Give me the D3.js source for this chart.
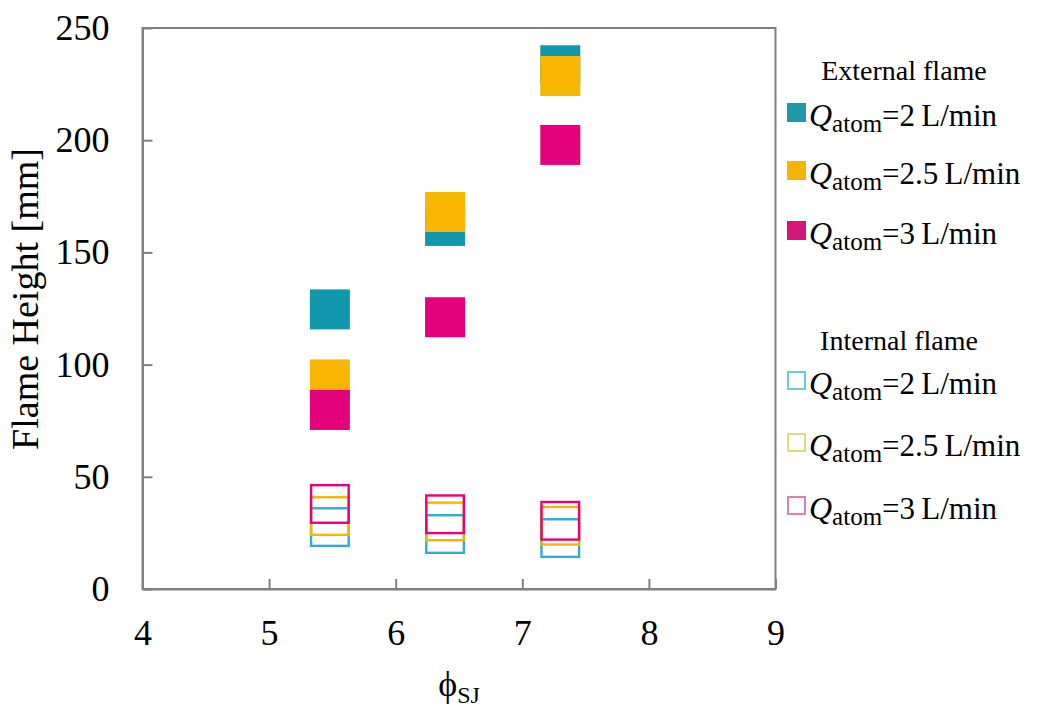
<!DOCTYPE html>
<html><head><meta charset="utf-8">
<script src="https://cdn.jsdelivr.net/npm/d3@7"></script>
<style>
html,body{margin:0;padding:0;background:#fff;}
text{font-family:"Liberation Serif","Times New Roman",serif;fill:#000;}
</style></head>
<body><svg id="chart" width="1038" height="711"></svg>
<script>
// ---- data ----
const phiSJ = [5.48, 6.39, 7.30];
const externalQ2  = [124.6, 161.8, 233.4];
const externalQ25 = [93.4, 168.0, 228.6];
const externalQ3  = [79.8, 121.1, 197.9];
const internalQ2  = [27.6, 24.5, 22.7];
const internalQ25 = [32.5, 30.1, 28.2];
const internalQ3  = [37.9, 33.3, 30.4];
const xTicks = [4, 5, 6, 7, 8, 9];
const yTicks = [0, 50, 100, 150, 200, 250];
const flowLabels = ["2", "2.5", "3"];

const svg = d3.select("#chart");
const x = d3.scaleLinear().domain([4, 9]).range([142.5, 775.5]);
const y = d3.scaleLinear().domain([0, 250]).range([589, 28]);
const axisColor = "#808080";

// frame
svg.append("rect").attr("x", x(4)).attr("y", y(250))
  .attr("width", x(9) - x(4)).attr("height", y(0) - y(250))
  .attr("fill", "none").attr("stroke", axisColor).attr("stroke-width", 2);

const gx = svg.append("g").attr("transform", `translate(0,${y(0)})`)
  .call(d3.axisBottom(x).tickValues(xTicks).tickSizeInner(-10).tickSizeOuter(0).tickPadding(30).tickFormat(d3.format("d")));
const gy = svg.append("g").attr("transform", `translate(${x(4)},0)`)
  .call(d3.axisLeft(y).tickValues(yTicks).tickSizeInner(-10).tickSizeOuter(0).tickPadding(33).tickFormat(d3.format("d")));
[gx, gy].forEach(g => {
  g.select(".domain").attr("stroke", axisColor).attr("stroke-width", 2);
  g.selectAll(".tick line").attr("stroke", axisColor).attr("stroke-width", 2);
  g.selectAll(".tick text").style("font-family", '"Liberation Serif", serif').style("font-size", "36px").attr("fill", "#000");
});

// axis titles
svg.append("text").attr("transform", "translate(38,299) rotate(-90)")
  .attr("text-anchor", "middle").style("font-size", "38px").text("Flame Height [mm]");
const xt = svg.append("text").attr("x", (x(4) + x(9)) / 2).attr("y", 696)
  .attr("text-anchor", "middle").style("font-size", "36px");
xt.append("tspan").text("\u03D5");
xt.append("tspan").attr("dy", 7).style("font-size", "24px").text("SJ");

// markers
const size = 40;
const extSeries = [
  {vals: externalQ2, color: "#1197ae"},
  {vals: externalQ25, color: "#f9b600"},
  {vals: externalQ3, color: "#e4007b"}
];
const intSeries = [
  {vals: internalQ2, color: "#35a9d6"},
  {vals: internalQ25, color: "#f8b500"},
  {vals: internalQ3, color: "#e5007d"}
];
extSeries.forEach(s => {
  svg.append("g").selectAll("rect").data(s.vals).join("rect")
    .attr("x", (d, i) => x(phiSJ[i]) - size / 2)
    .attr("y", d => y(d) - size / 2)
    .attr("width", size).attr("height", size)
    .attr("fill", s.color);
});
intSeries.forEach(s => {
  const sw = 2.4;
  svg.append("g").selectAll("rect").data(s.vals).join("rect")
    .attr("x", (d, i) => x(phiSJ[i]) - size / 2 + sw / 2)
    .attr("y", d => y(d) - size / 2 + sw / 2)
    .attr("width", size - sw).attr("height", size - sw)
    .attr("fill", "none").attr("stroke", s.color).attr("stroke-width", sw);
});

// legend
function legendBlock(title, titleX, titleY, baselines, markerColors, filled) {
  svg.append("text").attr("x", titleX).attr("y", titleY).attr("text-anchor", "middle")
    .style("font-size", "28px").text(title);
  baselines.forEach((b, i) => {
    if (filled) {
      svg.append("rect").attr("x", 787).attr("y", b - 23).attr("width", 19).attr("height", 19)
        .attr("fill", markerColors[i]);
    } else {
      svg.append("rect").attr("x", 788).attr("y", b - 22).attr("width", 17).attr("height", 17)
        .attr("fill", "none").attr("stroke", markerColors[i]).attr("stroke-width", 2);
    }
    const t = svg.append("text").attr("x", 809).attr("y", b);
    t.append("tspan").style("font-style", "italic").style("font-size", "32px").text("Q");
    t.append("tspan").attr("dy", 6).style("font-size", "25px").text("atom");
    t.append("tspan").attr("dy", -6).style("font-size", "31px").text("=" + flowLabels[i] + "\u2009L/min");
  });
}
legendBlock("External flame", 904, 80, [126, 184, 244], ["#1e9aaa", "#f4b400", "#d4157b"], true);
legendBlock("Internal flame", 899, 350, [394, 456, 519], ["#6cc8df", "#d8e07c", "#dd80b4"], false);
</script></body></html>
